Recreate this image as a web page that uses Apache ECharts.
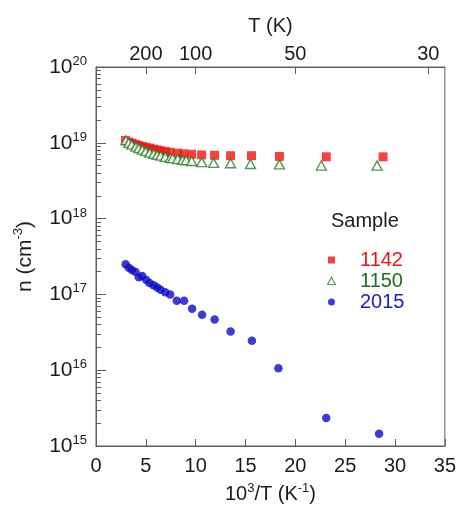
<!DOCTYPE html>
<html>
<head>
<meta charset="utf-8">
<script src="https://cdn.jsdelivr.net/npm/echarts@6/dist/echarts.min.js"></script>
<style>
  html, body { margin: 0; padding: 0; background: #fff; }
  #chart { width: 459px; height: 511px; }
</style>
</head>
<body>
<div id="chart"></div>
<script>
// Carrier concentration n (cm^-3) versus inverse temperature 10^3/T (K^-1)

// Sample 1142
const invT1142 = [2.95, 3.3, 3.6, 3.95, 4.3, 4.65, 5.0, 5.4, 5.8, 6.15, 6.5, 6.95, 7.45,
                  8.2, 8.8, 9.6, 10.6, 11.9, 13.5, 15.6, 18.4, 23.1, 28.8];
const n1142 = [1.07e19, 1.02e19, 9.89e18, 9.55e18, 9.23e18, 8.91e18, 8.71e18, 8.51e18,
               8.22e18, 8.04e18, 7.85e18, 7.67e18, 7.50e18, 7.29e18, 7.16e18, 7.05e18,
               6.92e18, 6.84e18, 6.76e18, 6.76e18, 6.61e18, 6.53e18, 6.53e18];

// Sample 1150
const invT1150 = [3.0, 3.3, 3.6, 4.0, 4.3, 4.65, 5.0, 5.4, 5.8, 6.15, 6.5, 6.95, 7.45,
                  7.7, 8.2, 8.7, 9.04, 9.6, 10.6, 11.8, 13.5, 15.5, 18.4, 22.6, 28.2];
const n1150 = [1.08e19, 1.00e19, 9.44e18, 8.91e18, 8.51e18, 8.13e18, 7.76e18, 7.41e18,
               7.16e18, 6.92e18, 6.76e18, 6.53e18, 6.31e18, 6.24e18, 6.10e18, 5.96e18,
               5.89e18, 5.75e18, 5.56e18, 5.43e18, 5.37e18, 5.25e18, 5.19e18, 5.01e18, 5.01e18];

// Sample 2015
const invT2015 = [2.97, 3.3, 3.6, 3.97, 4.3, 4.64, 5.04, 5.37, 5.77, 6.14, 6.47, 6.94, 7.44,
                  8.1, 8.84, 9.64, 10.64, 11.9, 13.5, 15.64, 18.3, 23.1, 28.4];
const n2015 = [2.49e17, 2.25e17, 2.10e17, 1.98e17, 1.68e17, 1.75e17, 1.55e17, 1.41e17,
               1.32e17, 1.23e17, 1.15e17, 1.07e17, 1.00e17, 8.22e16, 8.22e16, 6.46e16,
               5.37e16, 4.68e16, 3.24e16, 2.45e16, 1.06e16, 2.34e15, 1.45e15];

// Temperatures marked on the top axis (K)
const tempTicks = [200, 100, 50, 30];

const FONT = '"Liberation Sans", Arial, Helvetica, sans-serif';
const AXIS = '#5e5e5e';
const TXT = '#1c1c1c';
const RED = '#f01414';
const GREEN = '#2b7a2b';
const BLUE = '#0d0dc4';
const RED_TXT = '#e8141c';
const GREEN_TXT = '#1f6e22';
const BLUE_TXT = '#2020c0';

// minor ticks of the log axis: 2..9 x 10^d, expressed as exponents
const minorLog = [];
for (let d = 15; d < 20; d++) {
  for (let k = 2; k <= 9; k++) minorLog.push(d + Math.log10(k));
}

const pairs = (xs, ys) => xs.map((x, i) => [x, ys[i]]);
const sup = { fontSize: 13, lineHeight: 13, verticalAlign: 'top', fontFamily: FONT, color: TXT };

const chart = echarts.init(document.getElementById('chart'), null, { renderer: 'canvas' });

chart.setOption({
  animation: false,
  backgroundColor: '#fff',
  textStyle: { fontFamily: FONT },
  grid: {
    left: 96, right: 13, top: 67, bottom: 63,
    show: true, borderColor: AXIS, borderWidth: 1, backgroundColor: 'transparent'
  },
  title: {
    text: 'Sample', left: 331, top: 211, padding: 0,
    textStyle: { fontFamily: FONT, fontSize: 20, fontWeight: 'normal', color: TXT }
  },
  legend: {
    orient: 'vertical', left: 327, top: 250, padding: 0,
    itemWidth: 9, itemHeight: 7, itemGap: 1,
    textStyle: { fontFamily: FONT, fontSize: 20, lineHeight: 19, padding: [0, 0, 0, 19] },
    data: [
      { name: '1142', icon: 'path://M0,0H10V10H0Z',
        itemStyle: { color: RED }, textStyle: { color: RED_TXT } },
      { name: '1150', icon: 'path://M5,0L10,9H0Z',
        itemStyle: { color: '#fff', borderColor: GREEN, borderWidth: 1.2 }, textStyle: { color: GREEN_TXT } },
      { name: '2015', icon: 'path://M0,5a5,5 0 1,0 10,0a5,5 0 1,0 -10,0Z',
        itemStyle: { color: BLUE }, textStyle: { color: BLUE_TXT } }
    ]
  },
  xAxis: [
    {
      type: 'value', min: 0, max: 35, interval: 5, position: 'bottom',
      name: '10{s|3}/T (K{s|-1})', nameLocation: 'middle', nameGap: 36,
      nameTextStyle: { fontFamily: FONT, fontSize: 20, color: TXT, lineHeight: 24, rich: { s: sup } },
      axisLine: { onZero: false, lineStyle: { color: AXIS } },
      axisTick: { inside: true, length: 7, lineStyle: { color: AXIS } },
      axisLabel: { margin: 10, fontSize: 20, color: TXT, fontFamily: FONT },
      splitLine: { show: false }
    },
    {
      type: 'value', min: 0, max: 35, position: 'top',
      name: 'T (K)', nameLocation: 'middle', nameGap: 31,
      nameTextStyle: { fontFamily: FONT, fontSize: 20, color: TXT },
      axisLine: { onZero: false, lineStyle: { color: AXIS } },
      axisTick: { inside: true, length: 7, lineStyle: { color: AXIS },
                  customValues: tempTicks.map(t => 1000 / t) },
      axisLabel: { margin: 3, fontSize: 20, color: TXT, fontFamily: FONT,
                   customValues: tempTicks.map(t => 1000 / t),
                   formatter: v => String(Math.round(1000 / v)) },
      splitLine: { show: false }
    }
  ],
  yAxis: [
    {
      type: 'log', logBase: 10, min: 1e15, max: 1e20, splitNumber: 5, position: 'left',
      name: 'n (cm{s|-3})', nameLocation: 'middle', nameGap: 56,
      nameTextStyle: { fontFamily: FONT, fontSize: 21, color: TXT, lineHeight: 26, rich: { s: sup } },
      axisLine: { onZero: false, lineStyle: { color: AXIS } },
      axisTick: { inside: true, length: 10, lineStyle: { color: AXIS } },
      axisLabel: {
        margin: 9, color: TXT, fontFamily: FONT,
        formatter: v => '{b|10}{s|' + Math.round(Math.log10(v)) + '}',
        rich: {
          b: { fontSize: 21, lineHeight: 24, fontFamily: FONT, color: TXT },
          s: { fontSize: 13, lineHeight: 11, verticalAlign: 'top', fontFamily: FONT, color: TXT }
        }
      },
      splitLine: { show: false }
    },
    {
      // minor decade subdivisions
      type: 'value', min: 15, max: 20, position: 'left',
      axisLine: { show: false, onZero: false },
      axisLabel: { show: false },
      axisTick: { inside: true, length: 5, lineStyle: { color: AXIS }, customValues: minorLog },
      splitLine: { show: false }
    }
  ],
  series: [
    {
      name: '1142', type: 'scatter', xAxisIndex: 0, yAxisIndex: 0,
      symbol: 'rect', symbolSize: 9,
      itemStyle: { color: RED },
      data: pairs(invT1142, n1142)
    },
    {
      name: '1150', type: 'scatter', xAxisIndex: 0, yAxisIndex: 0,
      symbol: 'triangle', symbolSize: [10, 9],
      itemStyle: { color: '#fff', borderColor: GREEN, borderWidth: 1.4 },
      data: pairs(invT1150, n1150)
    },
    {
      name: '2015', type: 'scatter', xAxisIndex: 0, yAxisIndex: 0,
      symbol: 'circle', symbolSize: 8.5,
      itemStyle: { color: BLUE },
      data: pairs(invT2015, n2015)
    }
  ]
});
</script>
</body>
</html>
